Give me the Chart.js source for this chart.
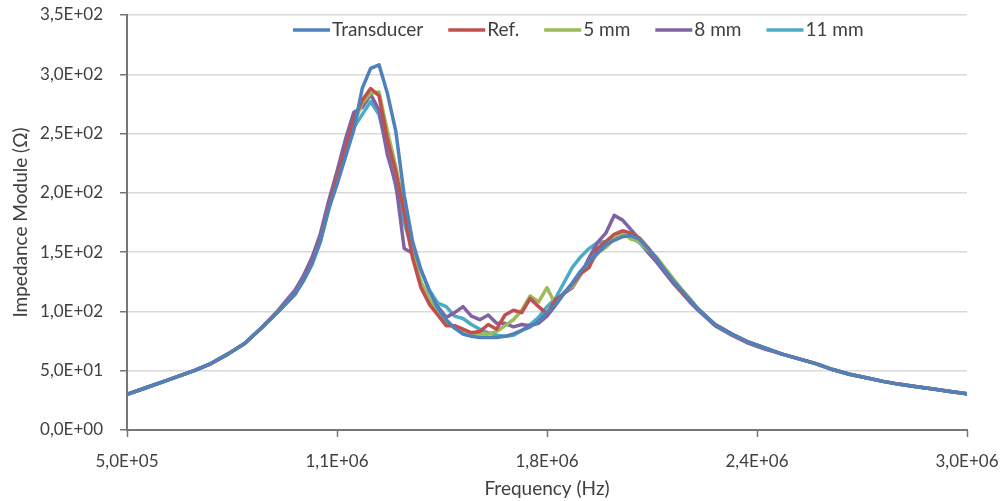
<!DOCTYPE html>
<html>
<head>
<meta charset="utf-8">
<title>Impedance Module</title>
<script src="https://cdn.jsdelivr.net/npm/chart.js@4.4.1/dist/chart.umd.min.js"></script>
<style>
  html, body { margin: 0; background: #fff; }
  #wrap { width: 1005px; height: 501px; position: relative; }
</style>
</head>
<body>
<div id="wrap"><canvas id="impedanceChart"></canvas></div>
<script>
// frequency sweep (kHz): coarse on the tails, finer around the two resonances
const freqKHz = [
  500, 550, 600, 650, 700, 750, 800, 850, 900, 950,
  1000, 1025, 1050, 1075, 1100, 1125, 1150, 1175, 1200, 1225,
  1250, 1275, 1300, 1325, 1350, 1375, 1400, 1425, 1450, 1475,
  1500, 1525, 1550, 1575, 1600, 1625, 1650, 1675, 1700, 1725,
  1750, 1775, 1800, 1825, 1850, 1875, 1900, 1925, 1950, 1975,
  2000, 2025, 2050, 2075, 2100, 2125, 2150, 2175, 2200,
  2250, 2300, 2350, 2400, 2450, 2500, 2550, 2600, 2650, 2700,
  2750, 2800, 2850, 2900, 2950, 3000
];

// impedance modulus (ohm) per measurement
const transducer = [
  30, 35, 40, 45, 50, 56, 64, 73, 86, 100,
  115, 126, 140, 159, 186, 207, 230, 253, 288, 305,
  308, 284, 252, 198, 159, 135, 117, 103, 93, 86,
  81, 79, 78, 78, 78, 79, 81, 84, 87, 92,
  99, 106, 115, 124, 134, 142, 149, 156, 160, 163,
  164, 161, 153, 145, 135, 126, 118, 110, 102,
  89, 81, 74, 69, 64, 60, 56, 51, 47, 44,
  41, 38.5, 36.5, 34.5, 32.5, 30.5
];
const ref = [
  30, 35, 40, 45, 50, 56, 64, 73, 86, 100,
  115, 126, 141, 160, 188, 212, 236, 262, 278, 288,
  282, 245, 218, 183, 145, 120, 106, 97, 88, 88,
  85, 82, 83, 89, 85, 97, 101, 99, 111, 104,
  98, 110, 115, 123, 132, 137, 153, 159, 165, 168,
  166, 162, 154, 145, 135, 125, 117, 109, 102,
  89, 81, 74, 69, 64, 60, 56, 51, 47, 44,
  41, 38.5, 36.5, 34.5, 32.5, 30.5
];
const mm5 = [
  30, 35, 40, 45, 50, 56, 64, 73, 86, 100,
  115, 126, 140, 159, 187, 211, 234, 258, 276, 284,
  285, 252, 222, 188, 148, 125, 110, 100, 91, 86,
  84, 82, 81, 81, 83, 88, 93, 101, 113, 108,
  120, 106, 116, 121, 132, 138, 149, 154, 161, 166,
  161, 159, 152, 146, 137, 128, 119, 111, 102,
  89, 81, 74, 69, 64, 60, 56, 51, 47, 44,
  41, 38.5, 36.5, 34.5, 32.5, 30.5
];
const mm8 = [
  30, 35, 40, 45, 50, 56, 64, 73, 86, 101,
  118, 130, 145, 165, 193, 218, 245, 268, 272, 283,
  270, 232, 208, 153, 149, 121, 108, 104, 95, 99,
  104, 96, 93, 97, 90, 90, 87, 89, 88, 90,
  96, 105, 115, 120, 131, 145, 158, 166, 181, 177,
  169, 161, 150, 142, 133, 124, 116, 108, 101,
  88, 80, 73, 68, 64, 60, 56, 51, 47, 44,
  41, 38.5, 36.5, 34.5, 32.5, 30.5
];
const mm11 = [
  30, 35, 40, 45, 50, 56, 64, 73, 86, 100,
  114, 126, 139, 158, 186, 211, 235, 255, 266, 277,
  266, 237, 205, 175, 150, 135, 118, 107, 104, 96,
  94, 89, 85, 82, 80, 79, 80, 84, 89, 95,
  104, 111, 124, 137, 146, 153, 158, 159, 161, 165,
  163, 158, 150, 143, 134, 125, 117, 109, 101,
  89, 81, 74, 69, 64, 60, 56, 51, 47, 44,
  41, 38.5, 36.5, 34.5, 32.5, 30.5
];

const seriesLabels = ['Transducer', 'Ref.', '5 mm', '8 mm', '11 mm'];
const seriesColors = ['#4F81BD', '#C0504D', '#9BBB59', '#8064A2', '#4BACC6'];
const seriesValues = [transducer, ref, mm5, mm8, mm11];

const xTickValues = [500000, 1125000, 1750000, 2375000, 3000000];
const yTickValues = [0, 50, 100, 150, 200, 250, 300, 350];

const TEXT = '#404040';
const AXIS = '#767676';

// Excel-style scientific label: 1,1E+06
function sciLabel(v) {
  if (v === 0) return '0,0E+00';
  const e = Math.floor(Math.log10(Math.abs(v)) + 1e-9);
  const m = v / Math.pow(10, e);
  return m.toFixed(1).replace('.', ',') + 'E' + (e < 0 ? '-' : '+') + String(Math.abs(e)).padStart(2, '0');
}

// legend drawn inside the plot, across the top
const inlineLegend = {
  id: 'inlineLegend',
  afterDatasetsDraw(chart) {
    const ctx = chart.ctx;
    let x = 293;
    const y = 30;
    ctx.save();
    ctx.font = '19px Lato';
    ctx.textBaseline = 'middle';
    chart.data.datasets.forEach(ds => {
      ctx.strokeStyle = ds.borderColor;
      ctx.lineWidth = 3.5;
      ctx.beginPath();
      ctx.moveTo(x, y);
      ctx.lineTo(x + 37, y);
      ctx.stroke();
      x += 39;
      ctx.fillStyle = TEXT;
      ctx.fillText(ds.label, x, y);
      x += ctx.measureText(ds.label).width + 25;
    });
    ctx.restore();
  }
};

Chart.defaults.font.family = 'Lato';
Chart.defaults.color = TEXT;

new Chart(document.getElementById('impedanceChart'), {
  type: 'line',
  data: {
    datasets: seriesValues.map((vals, i) => ({
      label: seriesLabels[i],
      data: vals.map((v, j) => ({ x: freqKHz[j] * 1000, y: v })),
      borderColor: seriesColors[i],
      backgroundColor: seriesColors[i],
      borderWidth: 3.5,
      borderJoinStyle: 'round',
      borderCapStyle: 'round',
      pointRadius: 0,
      tension: 0,
      fill: false
    }))
  },
  options: {
    responsive: true,
    maintainAspectRatio: false,
    animation: false,
    layout: { padding: { top: 15, right: 38, left: 0, bottom: 0 } },
    plugins: {
      legend: { display: false },
      tooltip: { enabled: false }
    },
    scales: {
      x: {
        type: 'linear',
        min: 500000,
        max: 3000000,
        afterBuildTicks: s => { s.ticks = xTickValues.map(v => ({ value: v })); },
        afterFit: s => {
          s.height = 71;
          s.paddingLeft = 0;
          s.paddingRight = 0;
        },
        grid: {
          drawOnChartArea: false,
          drawTicks: true,
          tickLength: 7,
          tickColor: AXIS,
          tickWidth: 1.5
        },
        border: { color: AXIS, width: 2 },
        ticks: {
          autoSkip: false,
          maxRotation: 0,
          padding: 14,
          font: { size: 17 },
          color: TEXT,
          callback: v => sciLabel(v)
        },
        title: {
          display: true,
          text: 'Frequency (Hz)',
          font: { size: 19 },
          color: TEXT,
          padding: { top: 0, bottom: 1 }
        }
      },
      y: {
        min: 0,
        max: 350,
        afterBuildTicks: s => { s.ticks = yTickValues.map(v => ({ value: v })); },
        afterFit: s => {
          s.width = 127;
          s.paddingTop = 0;
          s.paddingBottom = 0;
        },
        grid: {
          color: c => (c.tick && c.tick.value === 0 ? 'rgba(0,0,0,0)' : '#d9d9d9'),
          lineWidth: 1.5,
          tickLength: 7,
          tickColor: AXIS,
          tickWidth: 1.5
        },
        border: { color: AXIS, width: 2 },
        ticks: {
          padding: 17,
          font: { size: 17 },
          color: TEXT,
          callback: v => sciLabel(v)
        },
        title: {
          display: true,
          text: 'Impedance Module (Ω)',
          font: { size: 19 },
          color: TEXT,
          padding: { top: 9, bottom: 0 }
        }
      }
    }
  },
  plugins: [inlineLegend]
});
</script>
</body>
</html>
